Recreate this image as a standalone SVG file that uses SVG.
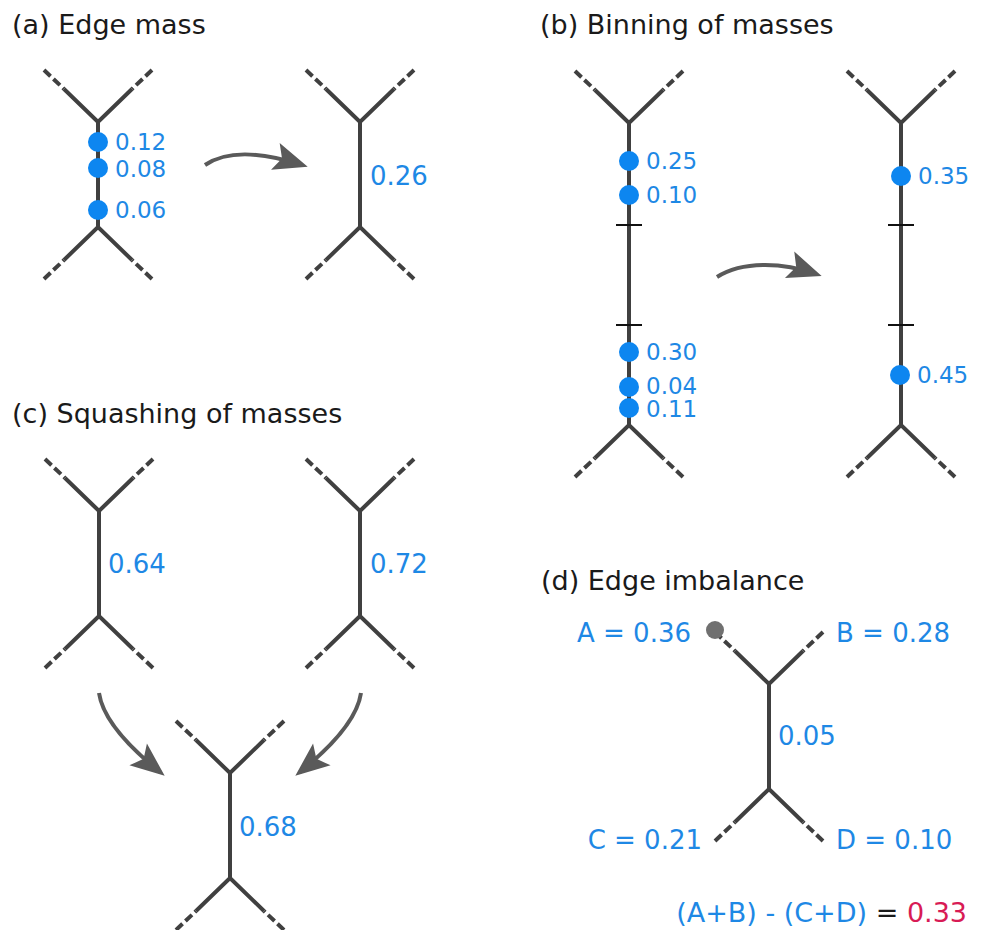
<svg xmlns="http://www.w3.org/2000/svg" xmlns:xlink="http://www.w3.org/1999/xlink" width="984" height="930" viewBox="0 0 984 930">
<style>
.title{font-family:"DejaVu Sans",sans-serif;font-size:27px;fill:#1a1a1a}
.sm{font-family:"DejaVu Sans",sans-serif;font-size:23px;fill:#1e88e5}
.lg{font-family:"DejaVu Sans",sans-serif;font-size:26px;fill:#1e88e5}
.solid{fill:none;stroke:#404040;stroke-width:4;stroke-linejoin:miter}
.dash{fill:none;stroke:#404040;stroke-width:4;stroke-dasharray:9 4}
.dot{fill:#0d86f0}
.tick{stroke:#111;stroke-width:2}
.arrow{fill:none;stroke:#5a5a5a;stroke-width:4;marker-end:url(#head)}
</style>
<defs>
<marker id="head" markerUnits="userSpaceOnUse" viewBox="-30 -15 38 30" markerWidth="38" markerHeight="30" refX="0" refY="0" orient="auto">
<path d="M6,0 L-28,-14 L-21,0 L-28,14 Z" fill="#5a5a5a"/>
</marker>
<g id="top">
<path class="solid" d="M-34,-33 L0,0 L34,-33"/>
<path class="dash" d="M-54,-52 L-34,-33 M54,-52 L34,-33"/>
</g>
<g id="bot">
<path class="solid" d="M-34,33 L0,0 L34,33"/>
<path class="dash" d="M-54,52 L-34,33 M54,52 L34,33"/>
</g>
<g id="tree">
<use xlink:href="#top"/>
<path class="solid" d="M0,0 V105"/>
<use xlink:href="#bot" y="105"/>
</g>
</defs>
<rect width="984" height="930" fill="#fff"/>

<text class="title" x="12" y="34">(a) Edge mass</text>
<text class="title" x="540" y="34">(b) Binning of masses</text>
<text class="title" x="12" y="423">(c) Squashing of masses</text>
<text class="title" x="541" y="590">(d) Edge imbalance</text>

<g id="connectors">
<path class="arrow" d="M205,165 C230,148 268,154 302,165"/>
<path class="arrow" d="M717,277 C742,261 782,262 816,274"/>
<path class="arrow" d="M99,693 Q104,727 160,772"/>
<path class="arrow" d="M361,693 Q356,727 300,772"/>
</g>

<g id="a-left">
<use xlink:href="#tree" x="98" y="122"/>
<circle class="dot" cx="98" cy="142" r="10"/>
<circle class="dot" cx="98" cy="168" r="10"/>
<circle class="dot" cx="98" cy="210" r="10"/>
<text class="sm" x="115" y="150">0.12</text>
<text class="sm" x="115" y="177">0.08</text>
<text class="sm" x="115" y="218">0.06</text>
</g>
<g id="a-right">
<use xlink:href="#tree" x="360" y="122"/>
<text class="lg" x="370" y="185">0.26</text>
</g>

<g id="b-left">
<use xlink:href="#top" x="629" y="123"/>
<path class="solid" d="M629,123 V425"/>
<use xlink:href="#bot" x="629" y="425"/>
<line class="tick" x1="616" y1="225" x2="642" y2="225"/>
<line class="tick" x1="616" y1="325" x2="642" y2="325"/>
<circle class="dot" cx="629" cy="161" r="10"/>
<circle class="dot" cx="629" cy="195" r="10"/>
<circle class="dot" cx="629" cy="352" r="10"/>
<circle class="dot" cx="629" cy="387" r="10"/>
<circle class="dot" cx="629" cy="408" r="10"/>
<text class="sm" x="646" y="169">0.25</text>
<text class="sm" x="646" y="203">0.10</text>
<text class="sm" x="646" y="360">0.30</text>
<text class="sm" x="646" y="394">0.04</text>
<text class="sm" x="646" y="417">0.11</text>
</g>
<g id="b-right">
<use xlink:href="#top" x="901" y="123"/>
<path class="solid" d="M901,123 V425"/>
<use xlink:href="#bot" x="901" y="425"/>
<line class="tick" x1="888" y1="225" x2="914" y2="225"/>
<line class="tick" x1="888" y1="325" x2="914" y2="325"/>
<circle class="dot" cx="901" cy="176" r="10"/>
<circle class="dot" cx="900" cy="375" r="10"/>
<text class="sm" x="918" y="184">0.35</text>
<text class="sm" x="917" y="383">0.45</text>
</g>

<g id="c-left">
<use xlink:href="#tree" x="99" y="511"/>
<text class="lg" x="108" y="573">0.64</text>
</g>
<g id="c-right">
<use xlink:href="#tree" x="360" y="511"/>
<text class="lg" x="370" y="573">0.72</text>
</g>
<g id="c-bottom">
<use xlink:href="#tree" x="230" y="773"/>
<text class="lg" x="239" y="836">0.68</text>
</g>

<g id="d-tree">
<use xlink:href="#tree" x="769" y="684"/>
<circle cx="715" cy="630" r="9" fill="#707070"/>
<text class="lg" x="778" y="745">0.05</text>
<text class="lg" x="691" y="642" text-anchor="end">A = 0.36</text>
<text class="lg" x="836" y="642">B = 0.28</text>
<text class="lg" x="702" y="849" text-anchor="end">C = 0.21</text>
<text class="lg" x="836" y="849">D = 0.10</text>
<text class="lg" x="967" y="922" text-anchor="end" style="font-size:27px">(A+B) - (C+D) <tspan fill="#1a1a1a">=</tspan> <tspan fill="#d81b55">0.33</tspan></text>
</g>
</svg>
